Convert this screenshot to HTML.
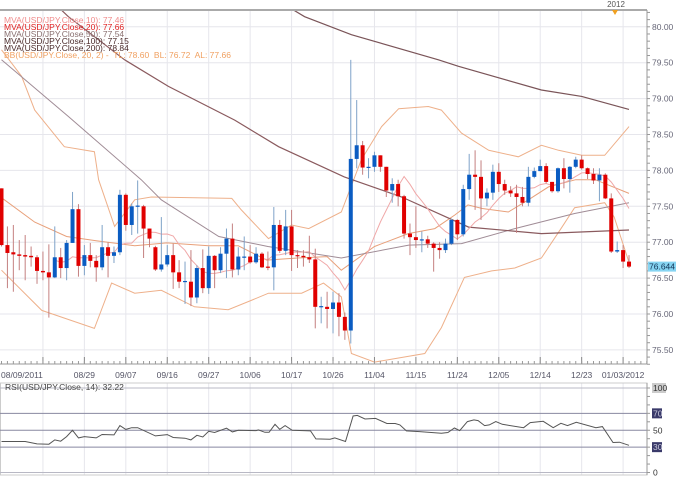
<!DOCTYPE html>
<html><head><meta charset="utf-8"><style>
html,body{margin:0;padding:0;background:#fff}
svg{display:block;font-family:"Liberation Sans",sans-serif}
</style></head><body>
<svg id="chart" width="680" height="477" viewBox="0 0 680 477" xmlns="http://www.w3.org/2000/svg">
<rect x="0" y="0" width="680" height="477" fill="#fff"/>
<g id="grid"></g>
<g id="bands"></g>
<g id="candles"></g>
<g id="axes"></g>
<g id="legend" font-size="8.5">
<text x="4" y="23" fill="#f08c8c">MVA(USD/JPY.Close,10): 77.46</text>
<text x="4" y="30" fill="#e02020">MVA(USD/JPY.Close,20): 77.66</text>
<text x="4" y="37" fill="#8a7070">MVA(USD/JPY.Close,50): 77.54</text>
<text x="4" y="44" fill="#4a2a2a">MVA(USD/JPY.Close,100): 77.15</text>
<text x="4" y="51" fill="#4a2a2a">MVA(USD/JPY.Close,200): 78.84</text>
<text x="4" y="58" fill="#f0a060" xml:space="preserve">BB(USD/JPY.Close, 20, 2) -  TL: 78.60  BL: 76.72  AL: 77.66</text>
</g>
<text x="5" y="390" font-size="8.5" fill="#444">RSI(USD/JPY.Close, 14): 32.22</text>
</svg>
<script>
const opens=[77.75,76.96,76.86,76.83,76.82,76.81,76.79,76.60,76.58,76.51,76.79,76.64,76.99,77.46,76.67,76.82,76.74,76.65,76.93,76.81,76.86,77.66,77.24,77.50,77.50,77.19,76.93,76.62,76.69,
76.82,76.58,76.45,76.45,76.23,76.64,76.36,76.81,76.61,76.84,77.05,76.62,76.80,76.80,76.72,76.84,76.66,76.65,77.24,76.88,77.22,76.82,76.81,76.79,76.76,76.10,76.10,76.07,76.16,75.96,
75.77,78.16,78.35,78.04,78.05,78.21,78.05,77.72,77.81,77.64,77.12,77.07,77.03,77.04,76.98,76.92,76.89,76.98,77.31,77.11,77.74,77.94,77.91,77.61,77.69,77.98,77.81,77.72,77.68,77.63,77.55,77.91,77.99,78.06,77.84,77.71,78.03,77.88,78.05,78.15,78.03,77.95,77.86,77.94,77.61,76.87,76.89,76.73];
const closes=[76.96,76.85,76.83,76.81,76.80,76.79,76.60,76.58,76.51,76.79,76.64,76.99,77.46,76.67,76.82,76.74,76.65,76.93,76.81,76.86,77.66,77.24,77.50,77.51,77.19,77.05,76.62,76.69,76.82,
76.58,76.45,76.46,76.23,76.64,76.36,76.81,76.61,76.84,77.05,76.62,76.80,76.80,76.72,76.84,76.65,76.65,77.24,76.88,77.22,76.82,76.81,76.79,76.76,76.10,76.11,76.07,76.16,75.96,75.77,
78.16,78.35,78.04,78.05,78.21,78.05,77.72,77.81,77.64,77.12,77.07,77.03,77.04,76.98,76.92,76.89,76.98,77.31,77.11,77.74,77.94,77.91,77.61,77.69,77.98,77.81,77.72,77.68,77.63,77.55,77.91,77.99,78.06,77.84,77.71,78.03,77.88,78.05,78.15,78.03,77.95,77.86,77.94,77.61,76.87,76.89,76.73,76.66];
const highs=[77.75,77.22,77.24,77.03,77.10,76.94,76.82,76.87,76.97,77.22,76.92,77.03,77.70,77.53,76.96,76.99,76.82,77.24,77.00,76.94,77.73,77.68,77.54,77.86,77.52,77.19,76.95,77.35,76.96,
76.98,76.75,76.73,76.89,76.68,76.90,76.94,76.82,76.93,77.19,77.26,76.93,77.08,76.96,76.93,76.86,76.87,77.49,77.31,77.45,77.45,76.89,76.89,77.09,76.91,76.24,76.31,76.31,76.29,76.02,
79.54,78.98,78.41,78.17,78.26,78.21,78.05,77.89,77.87,77.66,77.26,77.50,77.15,77.09,77.00,77.00,77.05,77.33,77.32,77.80,78.23,78.28,78.14,77.75,78.08,78.10,77.87,77.78,77.80,77.77,78.05,78.04,78.15,78.10,77.84,78.04,78.17,78.06,78.19,78.21,78.04,78.03,78.03,77.96,77.68,77.01,76.96,76.82];
const lows=[76.94,76.36,76.31,76.61,76.47,76.66,76.42,76.47,75.95,76.50,76.50,76.47,76.99,76.52,76.54,76.65,76.45,76.61,76.51,76.71,76.82,77.16,77.10,77.12,76.78,76.93,76.60,76.59,76.66,
76.35,76.36,76.14,76.11,76.15,76.29,76.28,76.36,76.57,76.50,76.51,76.54,76.61,76.70,76.70,76.64,76.61,76.33,76.85,76.82,76.60,76.64,76.66,76.71,75.80,75.87,75.80,75.73,75.69,75.64,
75.59,78.03,77.94,77.89,77.98,77.98,77.63,77.55,77.50,77.05,76.82,76.92,76.86,76.92,76.59,76.77,76.85,76.96,77.03,77.08,77.59,77.45,77.31,77.50,77.59,77.70,77.66,77.63,77.13,77.50,77.50,77.89,77.99,77.82,77.69,77.69,77.75,77.69,78.03,78.01,77.88,77.81,77.57,77.60,76.85,76.85,76.64,76.64];

const ma50Idx=[0,11.3,23.6,27,36.7,45,57.4,68.8,77.7,86.7,96.8,106];
const ma50Val=[79.54,78.75,77.87,77.59,77.08,76.94,76.78,76.96,76.98,77.19,77.40,77.55];
const ma100Idx=[8,11.3,20.8,28.2,39.4,46.8,57.9,67.6,78.9,91.2,106];
const ma100Val=[80.4,80.14,79.54,79.17,78.70,78.33,77.91,77.63,77.21,77.12,77.17];
const ma200Idx=[48,51.2,59.1,73.8,77.2,91.2,98,106];
const ma200Val=[80.3,80.14,79.89,79.54,79.45,79.12,79.03,78.85];
const bbUpIdx=[0,3.4,5.6,10.6,15.7,16.4,19.1,22.5,25.3,38.9,40.5,45.1,49,51.9,57.4,60.8,64.2,67.1,72.1,74.3,77.7,82.3,87.3,91.2,94.1,98,101.9,106];
const bbUpVal=[79.68,79.31,78.84,78.33,78.26,77.87,77.22,77.59,77.63,77.61,77.45,77.05,77.24,77.19,77.42,78.15,78.61,78.86,78.89,78.84,78.52,78.28,78.19,78.35,78.28,78.21,78.21,78.61];
const bbLoIdx=[0,6.8,15.7,18.6,22.5,27,32.6,38.3,42.2,45.1,50.7,54.4,57.4,59.1,63,71.5,74.3,78.2,82.8,86.7,91.2,94.6,96.8,101.9,103.5,106];
const bbLoVal=[76.61,76.05,75.80,76.43,76.29,76.33,76.10,76.06,76.19,76.29,76.29,76.43,76.24,75.45,75.33,75.45,75.81,76.51,76.60,76.64,76.78,77.20,77.48,77.55,77.35,76.72];
const bbMidIdx=[0,5.6,11,16,22.5,27.9,35,40,44.8,50,55,57.4,63,68.7,73.2,76.6,78.8,81.2,85.6,89,92.4,97,100.3,106];
const bbMidVal=[77.62,77.28,77.08,77.02,76.95,76.99,76.95,76.95,76.75,76.78,76.80,76.61,76.94,77.12,77.19,77.38,77.52,77.47,77.42,77.59,77.77,77.87,77.87,77.68];
const rsiIdx=[0,4,6,8,9,10,11,12,13,14,16,17,19,20,21,22,23,26,28,29,31,32,33,34,35,36,38,39,40,43,43.4,44.5,45.2,46.2,47,47.9,49.1,52.2,53.1,55.5,56.3,58.1,59.4,60.1,61.4,63.2,65.1,66.5,67.3,68.4,70.6,74.3,75.4,76.5,77.4,78.7,79.8,80.5,81.6,82.4,83.5,84.6,88.2,89.3,91.5,93.2,94.5,95.6,97.1,100.4,101.5,103.3,104.4,106];
const rsiVal=[36.7,36.7,33.9,33.5,38.6,37,42.5,50,41,42.5,41,45,44.5,55.5,51,53,53,43.3,44.9,41.4,40.6,38.6,44,42,48.8,47.3,52.4,48,50,49.6,50.4,47.6,47.6,57,51,55.5,50,49.2,39.8,39.4,41,36.7,66.9,67.6,63.3,64,58,58,56.3,49.2,48.4,46.5,47.3,52.7,49.6,60.2,62.2,61.4,55.5,56.3,60.2,57,53,59,60.6,53,58.2,55.5,59.4,53,54.3,35.5,35.9,32.2];
const priceTicks=[80.00,79.50,79.00,78.50,78.00,77.50,77.00,76.50,76.00,75.50];
const dateLabels=["08/09/2011","","08/29","09/07","09/16","09/27","10/06","10/17","10/26","11/04","11/15","11/24","12/05","12/14","12/23","01/03/2012"];
const rsiTicks=[100,70,50,30,0];

const NS="http://www.w3.org/2000/svg";
const X=i=>1.5+i*5.92;
const Y=p=>26.8+(80-p)*71.8;
const RY=v=>472.5-v*0.845;
function mk(tag,at,parent){const e=document.createElementNS(NS,tag);for(const k in at)e.setAttribute(k,at[k]);parent.appendChild(e);return e;}
const grid=document.getElementById('grid'),bands=document.getElementById('bands'),cg=document.getElementById('candles'),ax=document.getElementById('axes');

// top strip
let e=mk('rect',{x:0,y:0,width:680,height:9,fill:'#fff'},ax);


e=mk('line',{x1:0,y1:10,x2:647,y2:10,stroke:'#aaa','stroke-width':2},ax);


e=mk('text',{x:616,y:7,'font-size':8,fill:'#555','text-anchor':'middle'},ax);e.textContent='2012';


e=mk('path',{d:'M612,10 L618,10 L615,15 Z',fill:'#f0a020'},ax);



// price grid
priceTicks.forEach(p=>{
 e=mk('line',{x1:0,y1:Y(p),x2:647,y2:Y(p),stroke:'#e6e6ec','stroke-width':1},grid);
 
 
 e=mk('text',{x:652,y:Y(p)+3,'font-size':8.5,fill:'#667'},ax);e.textContent=p.toFixed(2);
 
 
});
for(let p=75.3;p<=80.2;p+=0.1){mk('line',{x1:647,y1:Y(p),x2:650,y2:Y(p),stroke:'#999'},ax);}
// vertical grid + date labels
dateLabels.forEach((d,k)=>{
 const x=X(k*7);
 if(k>0){
  e=mk('line',{x1:x,y1:11,x2:x,y2:364,stroke:'#e6e6ec'},grid);
  
  
  e=mk('line',{x1:x,y1:383,x2:x,y2:475,stroke:'#e6e6ec'},grid);
  
  
  mk('line',{x1:x,y1:357,x2:x,y2:364,stroke:'#888'},ax);
 }
 if(d){
  e=mk('text',{x:k==0?1:x,y:378,'font-size':8.5,fill:'#556','text-anchor':k==0?'start':'middle'},ax);e.textContent=d;
  
  
 }
});
for(let i=0;i<110;i++){mk('line',{x1:X(i),y1:361,x2:X(i),y2:364,stroke:'#999'},ax);}
e=mk('line',{x1:647,y1:10,x2:647,y2:364,stroke:'#999'},ax);


e=mk('line',{x1:0,y1:364,x2:647,y2:364,stroke:'#999'},ax);



// overlay lines
function poly(idx,val,color,w,name){
 const pts=idx.map((i,k)=>X(i).toFixed(1)+','+Y(val[k]).toFixed(1)).join(' ');
 const el=mk('polyline',{points:pts,fill:'none',stroke:color,'stroke-width':w},bands);
 
 
}
const clip=mk('clipPath',{id:'pc'},document.getElementById('chart'));mk('rect',{x:0,y:11,width:647,height:353},clip);
bands.setAttribute('clip-path','url(#pc)');
poly(bbUpIdx,bbUpVal,'#eeb08a',1,'bb-upper');
poly(bbLoIdx,bbLoVal,'#eeb08a',1,'bb-lower');
poly(bbMidIdx,bbMidVal,'#e8a07a',1,'bb-middle-ma20');
poly(ma50Idx,ma50Val,'#a08c96',1,'ma50-line');
poly(ma100Idx,ma100Val,'#8a5a5e',1.2,'ma100-line');
poly(ma200Idx,ma200Val,'#7a5458',1.2,'ma200-line');
const m10i=[],m10v=[];
for(let i=9;i<closes.length;i++){let s=0;for(let j=i-9;j<=i;j++)s+=closes[j];m10i.push(i);m10v.push(s/10);}
poly(m10i,m10v,'#f0a8a8',1,'ma10-line');

// candles
for(let i=0;i<opens.length;i++){
 const up=closes[i]>=opens[i];const x=X(i);
 e=mk('line',{x1:x,y1:Y(highs[i]),x2:x,y2:Y(lows[i]),stroke:up?'#7ea2c8':'#c48080','stroke-width':1},cg);
 
 
 const t=Y(Math.max(opens[i],closes[i])),b=Y(Math.min(opens[i],closes[i]));
 e=mk('rect',{x:x-2,y:t,width:4,height:Math.max(1.2,b-t),fill:up?'#0a5cc2':'#e00000'},cg);
 
 
}
// last price tag
const lp=closes[closes.length-1];
e=mk('rect',{x:648,y:Y(lp)-5,width:28,height:10,fill:'#86d4f2'},ax);


e=mk('text',{x:649,y:Y(lp)+3,'font-size':8.5,fill:'#135'},ax);e.textContent='76.644';



// RSI pane
e=mk('rect',{x:0.5,y:383,width:646.5,height:92,fill:'none',stroke:'#ccc'},ax);


rsiTicks.forEach(v=>{
 e=mk('line',{x1:0,y1:RY(v),x2:647,y2:RY(v),stroke:v==0||v==100?'#b8b8c4':'#8888a0'},ax);
 
 
 const dark=(v==70||v==30);
 if(dark||v==100){mk('rect',{x:652,y:RY(v)-5,width:v==100?14:10,height:10,fill:dark?'#3a3a6a':'#ccc'},ax);}
 e=mk('text',{x:653,y:RY(v)+3,'font-size':8.5,fill:dark?'#ccd':'#333'},ax);e.textContent=String(v);
 
 
});
for(let v=0;v<=100;v+=10){mk('line',{x1:647,y1:RY(v),x2:650,y2:RY(v),stroke:'#999'},ax);}
mk('line',{x1:647,y1:383,x2:647,y2:475,stroke:'#999'},ax);
const rp=rsiIdx.map((i,k)=>X(i).toFixed(1)+','+RY(rsiVal[k]).toFixed(1)).join(' ');
e=mk('polyline',{points:rp,fill:'none',stroke:'#555','stroke-width':1},ax);


</script>
</body></html>
